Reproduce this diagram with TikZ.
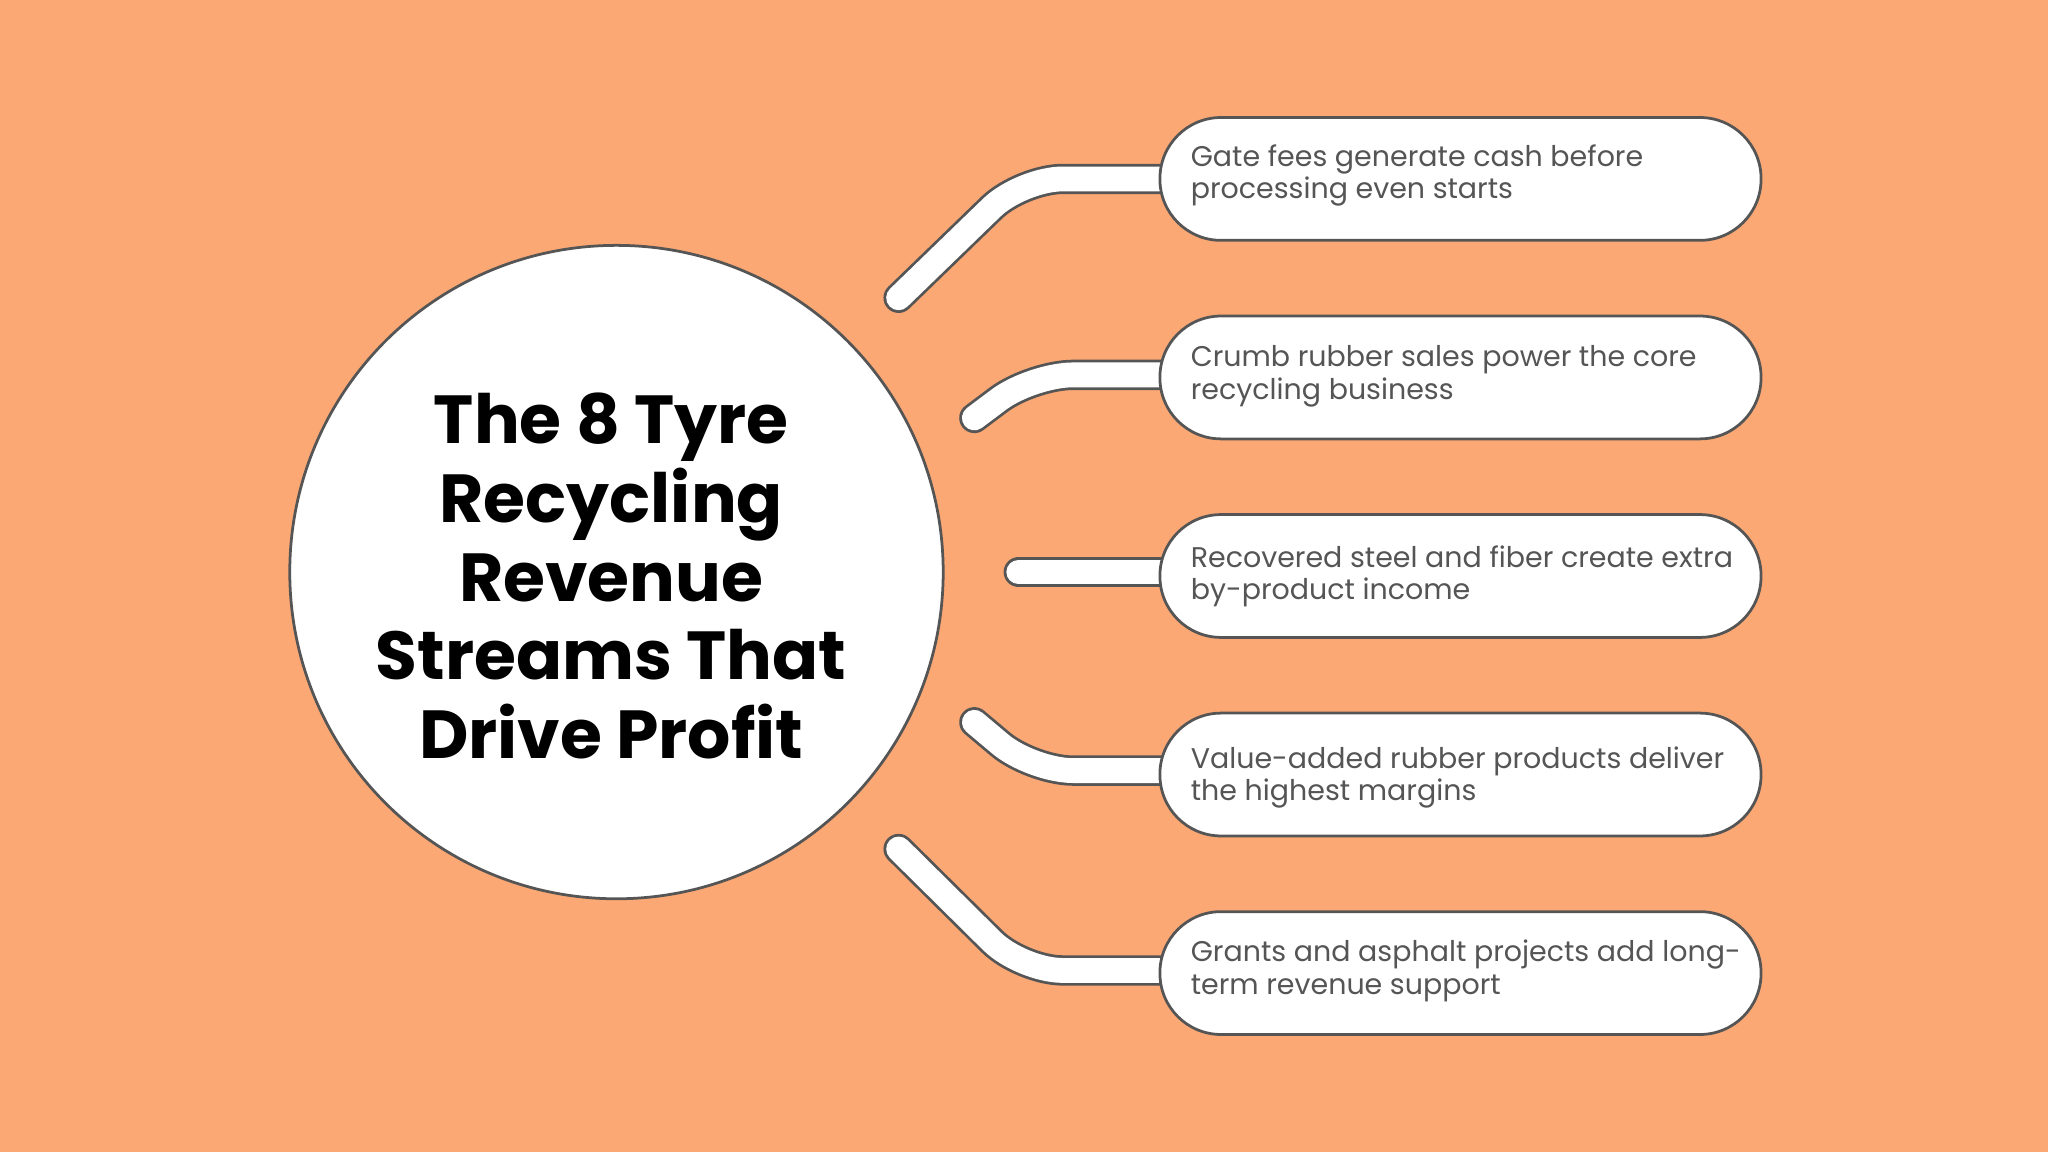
\documentclass[tikz,border=0pt]{standalone}
\usepackage{fontspec}
\setmainfont{Poppins}
\definecolor{bg}{HTML}{FBA874}
\definecolor{edge}{HTML}{555555}
\tikzset{
  pill/.style={draw=edge,line width=0.6pt,fill=white,rounded corners=13.3pt,minimum width=4.6cm,minimum height=0.94cm,anchor=west,inner sep=0pt},
  ptext/.style={anchor=north west,align=left,font=\fontsize{6.2}{7.1}\selectfont,text=edge,inner sep=0pt},
  band/.style={draw=edge,line width=6.6pt,line cap=round,rounded corners=9pt},
  bandin/.style={draw=white,line width=5.4pt,line cap=round,rounded corners=9pt}
}
\begin{document}
\begin{tikzpicture}[x=0.01cm,y=-0.01cm]
\fill[bg] (0,0) rectangle (1568,882);
\useasboundingbox (0,0) rectangle (1568,882);
% connector anchors
\coordinate (e1) at (688,228); \coordinate (k1) at (782,137);
\coordinate (e2) at (746,320); \coordinate (k2) at (790,287);
\coordinate (e3) at (780,438);
\coordinate (e4) at (746,553); \coordinate (k4) at (790,590);
\coordinate (e5) at (688,650); \coordinate (k5) at (782,743);
\coordinate (p1) at (890,137); \coordinate (p2) at (890,287);
\coordinate (p3) at (890,438); \coordinate (p4) at (890,590);
\coordinate (p5) at (890,743);
\foreach \s in {band,bandin}{
  \draw[\s] (e1) -- (k1) -- (p1);
  \draw[\s] (e2) -- (k2) -- (p2);
  \draw[\s] (e3) -- (p3);
  \draw[\s] (e4) -- (k4) -- (p4);
  \draw[\s] (e5) -- (k5) -- (p5);
}
\node[circle,draw=edge,line width=0.6pt,fill=white,minimum size=5.0cm,inner sep=0pt] (c) at (472,438) {};
\node[align=center,font=\fontsize{14.8}{17.1}\selectfont\bfseries] (t) at (468,441) {The 8 Tyre\\Recycling\\Revenue\\Streams That\\Drive Profit};
\node[pill] (b1) at (887,137) {};
\node[pill] (b2) at (887,289) {};
\node[pill] (b3) at (887,441) {};
\node[pill] (b4) at (887,593) {};
\node[pill] (b5) at (887,745) {};
\node[ptext] (l1) at (911,110) {Gate fees generate cash before\\processing even starts};
\node[ptext] (l2) at (911,264) {Crumb rubber sales power the core\\recycling business};
\node[ptext] (l3) at (911,417) {Recovered steel and fiber create extra\\by-product income};
\node[ptext] (l4) at (911,571) {Value-added rubber products deliver\\the highest margins};
\node[ptext] (l5) at (911,719) {Grants and asphalt projects add long-\\term revenue support};
\end{tikzpicture}
\end{document}
